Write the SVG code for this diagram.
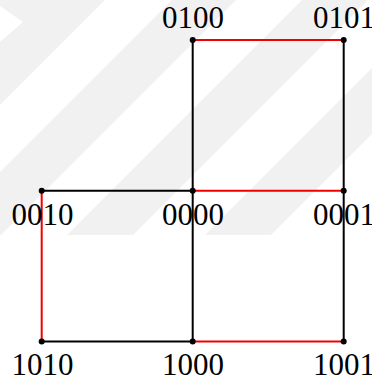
<svg xmlns="http://www.w3.org/2000/svg" width="372" height="385" viewBox="0 0 372 385">
<style>
.wm{fill:#f1f1f1}
.e{stroke-width:2;stroke-linecap:round;fill:none}
.k{stroke:#000000}
.r{stroke:#f00000}
.dot{fill:#000000}
.lbl{font-family:"Liberation Serif","Times New Roman",serif;font-size:31px;fill:#000000;text-anchor:middle}
</style>
<rect width="372" height="385" fill="#ffffff"/>
<g id="watermark">
<polygon class="wm" points="0,0 105,0 0,105"/>
<polygon points="0,6 23,22 0,42" fill="#ffffff"/>
<polygon class="wm" points="172,0 236,0 1,235 -63,235"/>
<polygon class="wm" points="302,0 368,0 133,235 67,235"/>
<polygon class="wm" points="440,0 506,0 271,235 205,235"/>
</g>
<g id="connectors">
<line class="e r" x1="192.7" y1="40" x2="343.7" y2="40"/>
<line class="e k" x1="192.7" y1="40" x2="192.7" y2="190.8"/>
<line class="e k" x1="343.7" y1="40" x2="343.7" y2="190.8"/>
<line class="e k" x1="41.7" y1="190.8" x2="192.7" y2="190.8"/>
<line class="e r" x1="192.7" y1="190.8" x2="343.7" y2="190.8"/>
<line class="e r" x1="41.7" y1="190.8" x2="41.7" y2="341.6"/>
<line class="e k" x1="192.7" y1="190.8" x2="192.7" y2="341.6"/>
<line class="e k" x1="343.7" y1="190.8" x2="343.7" y2="341.6"/>
<line class="e k" x1="41.7" y1="341.6" x2="192.7" y2="341.6"/>
<line class="e r" x1="192.7" y1="341.6" x2="343.7" y2="341.6"/>
</g>
<g id="n0100"><circle class="dot" cx="192.7" cy="40" r="3"/><text class="lbl" x="193" y="27.5">0100</text></g>
<g id="n0101"><circle class="dot" cx="343.7" cy="40" r="3"/><text class="lbl" x="344" y="27.5">0101</text></g>
<g id="n0010"><circle class="dot" cx="41.7" cy="190.8" r="3"/><text class="lbl" x="42.5" y="225">0010</text></g>
<g id="n0000"><circle class="dot" cx="192.7" cy="190.8" r="3"/><text class="lbl" x="193" y="225">0000</text></g>
<g id="n0001"><circle class="dot" cx="343.7" cy="190.8" r="3"/><text class="lbl" x="344" y="225">0001</text></g>
<g id="n1010"><circle class="dot" cx="41.7" cy="341.6" r="3"/><text class="lbl" x="42.5" y="375">1010</text></g>
<g id="n1000"><circle class="dot" cx="192.7" cy="341.6" r="3"/><text class="lbl" x="193" y="375">1000</text></g>
<g id="n1001"><circle class="dot" cx="343.7" cy="341.6" r="3"/><text class="lbl" x="344" y="375">1001</text></g>
</svg>
